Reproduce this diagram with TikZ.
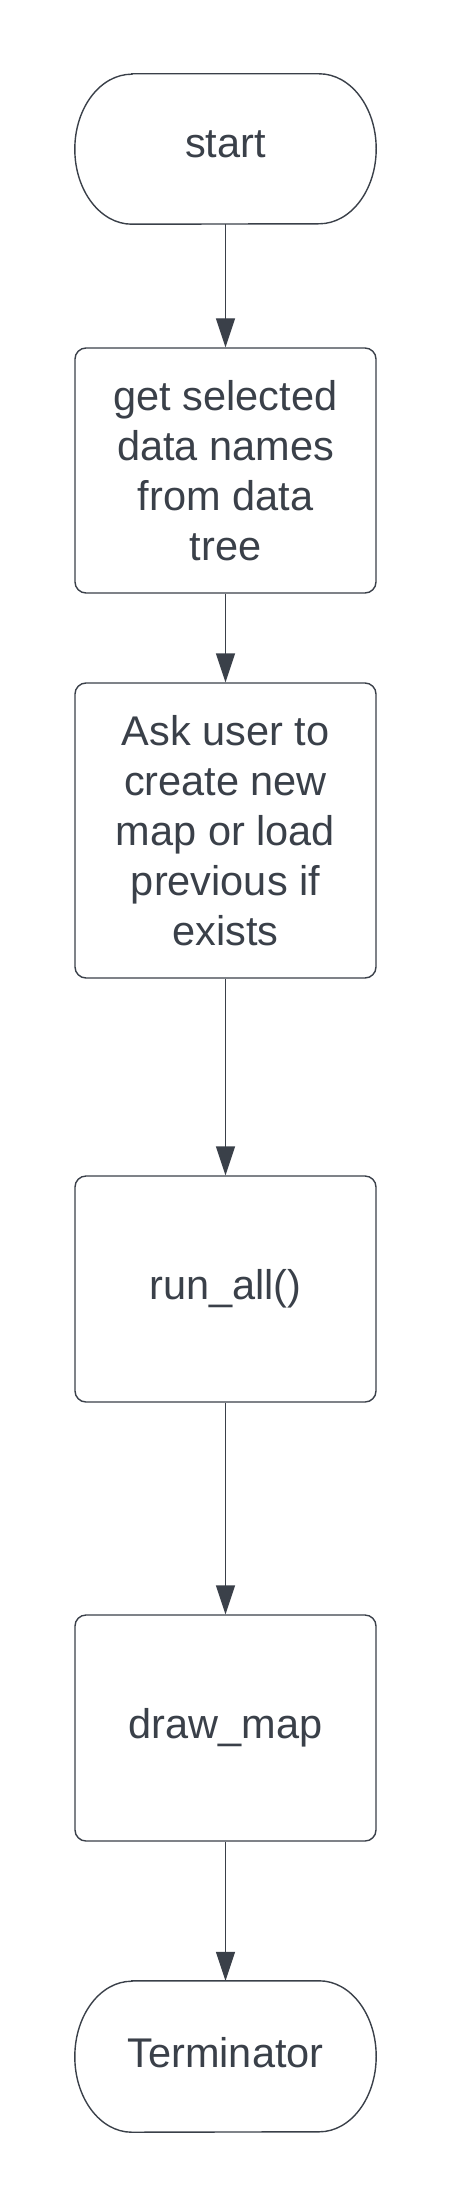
\documentclass[tikz,border=0pt]{standalone}
\usepackage{fontspec}
\setmainfont{Liberation Sans}
\usetikzlibrary{arrows.meta}
\definecolor{ink}{RGB}{58,64,73}
\begin{document}
\begin{tikzpicture}[x=1pt,y=-1pt,
  base/.style={text=ink, align=center,
    minimum width=301pt, inner sep=0pt,
    font=\fontsize{41.5}{50}\selectfont},
  termbox/.style={base, minimum height=150pt, text depth=9pt},
  procbox/.style={base, draw=ink, line width=1.4pt, fill=white, rounded corners=11pt},
  outline/.style={draw=ink, line width=1.4pt},
  flow/.style={draw=ink, line width=1.4pt, -{Triangle[width=19pt,length=29pt]}}]
\useasboundingbox (0,0) rectangle (450,2207);
\node[termbox] (start) at (225.5,149) {start};
\node[procbox, minimum height=245pt] (get) at (225.5,470.5) {get selected\\data names\\from data\\tree};
\node[procbox, minimum height=295pt] (ask) at (225.5,830.5) {Ask user to\\create new\\map or load\\previous if\\exists};
\node[procbox, minimum height=226pt] (run) at (225.5,1289) {run\_all()};
\node[procbox, minimum height=226pt] (drawmap) at (225.5,1728) {draw\_map};
\node[termbox, minimum height=151pt] (term) at (225.5,2056.5) {Terminator};
\foreach \t/\r in {start/75, term/75.5}{
  \draw[outline] ([xshift=57pt]\t.north west) -- ([xshift=-57pt]\t.north east)
    arc[start angle=90, end angle=-90, x radius=57pt, y radius=\r pt]
    -- ([xshift=57pt]\t.south west)
    arc[start angle=270, end angle=90, x radius=57pt, y radius=\r pt] -- cycle;
}
\draw[flow] (start) -- (get);
\draw[flow] (get) -- (ask);
\draw[flow] (ask) -- (run);
\draw[flow] (run) -- (drawmap);
\draw[flow] (drawmap) -- (term);
\end{tikzpicture}
\end{document}
